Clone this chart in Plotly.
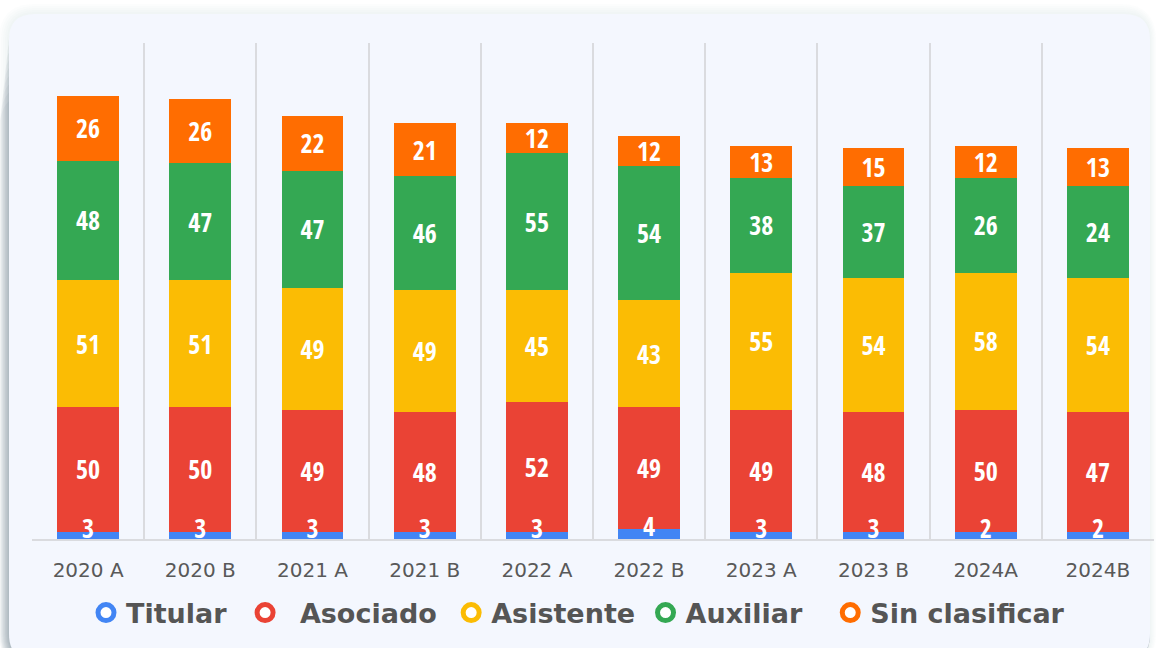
import plotly.graph_objects as go

# ---------------- data ----------------
categories = ["2020 A", "2020 B", "2021 A", "2021 B", "2022 A",
              "2022 B", "2023 A", "2023 B", "2024A", "2024B"]

# bar heights as drawn
titular = [3, 3, 3, 3, 3, 4, 3, 3, 3, 3]
asociado = [50, 50, 49, 48, 52, 49, 49, 48, 49, 48]
asistente = [51, 51, 49, 49, 45, 43, 55, 54, 55, 54]
auxiliar = [48, 47, 47, 46, 55, 54, 38, 37, 38, 37]
sin_clasificar = [26, 26, 22, 21, 12, 12, 13, 15, 13, 15]

# labels as printed on the bars
titular_labels = [3, 3, 3, 3, 3, 4, 3, 3, 2, 2]
asociado_labels = [50, 50, 49, 48, 52, 49, 49, 48, 50, 47]
asistente_labels = [51, 51, 49, 49, 45, 43, 55, 54, 58, 54]
auxiliar_labels = [48, 47, 47, 46, 55, 54, 38, 37, 26, 24]
sin_clasificar_labels = [26, 26, 22, 21, 12, 12, 13, 15, 12, 13]

series_names = ["Titular", "Asociado", "Asistente", "Auxiliar", "Sin clasificar"]
# legend entries (spacing characters mimic the original legend layout)
legend_names = ["Titular\u2002", " \u2009Asociado\u00a0", "Asistente\u2009",
                "Auxiliar\u2002\u00a0", "Sin clasificar"]
colors = ["#4285F4", "#EA4335", "#FBBC04", "#34A853", "#FF6D01"]
values = [titular, asociado, asistente, auxiliar, sin_clasificar]
labels = [titular_labels, asociado_labels, asistente_labels, auxiliar_labels, sin_clasificar_labels]

W, H = 1156, 648
ML, MR, MT, MB = 32, 2, 43, 109
PW, PH = W - ML - MR, H - MT - MB

bar_font = "Open Sans Condensed, DejaVu Sans Condensed, sans-serif"
bar_textfont = dict(family=bar_font, size=26, color="white", weight="bold")

fig = go.Figure()
for i in range(5):
    fig.add_trace(go.Bar(
        x=categories, y=values[i], name=series_names[i],
        marker=dict(color=colors[i], line=dict(width=0)),
        text=None if i == 0 else [str(v) for v in labels[i]],
        textposition="inside", insidetextanchor="middle",
        textangle=0, constraintext="none", textfont=bar_textfont,
        showlegend=False, hoverinfo="skip",
    ))

# labels of the thin first segment, drawn on top of the stack
fig.add_trace(go.Scatter(
    x=categories, y=titular, mode="text", text=[str(v) for v in titular_labels],
    textposition="middle center", cliponaxis=False, textfont=bar_textfont,
    showlegend=False, hoverinfo="skip",
))

# legend entries with ring markers
for i in range(5):
    fig.add_trace(go.Scatter(
        x=[None], y=[None], mode="markers", name=legend_names[i],
        marker=dict(symbol="circle", color="white", size=16,
                    line=dict(color=colors[i], width=5)),
        showlegend=True, hoverinfo="skip",
    ))


def px2paper(px, py):
    return (px - ML) / PW, (H - MB - py) / PH


def rounded_path(x0, y0, x1, y1, r):
    def p(x, y):
        fx, fy = px2paper(x, y)
        return f"{fx:.5f},{fy:.5f}"
    return (f"M {p(x0 + r, y0)} L {p(x1 - r, y0)} Q {p(x1, y0)} {p(x1, y0 + r)} "
            f"L {p(x1, y1 - r)} Q {p(x1, y1)} {p(x1 - r, y1)} "
            f"L {p(x0 + r, y1)} Q {p(x0, y1)} {p(x0, y1 - r)} "
            f"L {p(x0, y0 + r)} Q {p(x0, y0)} {p(x0 + r, y0)} Z")


shapes = []
# very faint halo around the card
for k in range(10, 0, -2):
    shapes.append(dict(type="path", xref="paper", yref="paper", layer="below",
                       path=rounded_path(9 - k, 14 - k, 1150 + k * 0.6, 660 + k, 26 + k),
                       fillcolor="rgba(120,128,150,0.018)", line=dict(width=0)))
# soft drop shadow, stronger on the lower left
for k in range(9, 0, -1):
    shapes.append(dict(type="path", xref="paper", yref="paper", layer="below",
                       path=rounded_path(9 - k * 1.05, 12 + k * 9, 1150, 660 + k, 26 + k),
                       fillcolor="rgba(100,110,135,0.055)", line=dict(width=0)))
# card
shapes.append(dict(type="path", xref="paper", yref="paper", layer="below",
                   path=rounded_path(9, 14, 1150, 660, 26),
                   fillcolor="#F4F7FE", line=dict(width=0)))

fig.update_layout(
    width=W, height=H,
    barmode="stack", bargap=0.448,
    paper_bgcolor="white", plot_bgcolor="rgba(0,0,0,0)",
    margin=dict(l=ML, r=MR, t=MT, b=MB, pad=0),
    shapes=shapes,
    xaxis=dict(
        type="category", tickson="boundaries", showgrid=True,
        gridcolor="#DADBDF", gridwidth=2,
        showline=True, linecolor="#DADBDF", linewidth=2,
        ticks="", ticklabelstandoff=12,
        tickfont=dict(family="DejaVu Sans", size=20, color="#595959"),
        range=[-0.5, 9.5], fixedrange=True,
    ),
    yaxis=dict(range=[0, 199.3], showgrid=False, zeroline=False,
               showticklabels=False, showline=False, ticks="", fixedrange=True),
    legend=dict(
        orientation="h", xref="container", yref="container", traceorder="normal",
        x=0.5, xanchor="center", y=1 - 613 / H, yanchor="middle",
        font=dict(family="DejaVu Sans", size=27, color="#555555", weight="bold"),
        bgcolor="rgba(0,0,0,0)", itemclick=False, itemdoubleclick=False,
    ),
)

fig.write_html("out.html", config={"displayModeBar": False},
               post_script="document.body.style.margin='0';")
